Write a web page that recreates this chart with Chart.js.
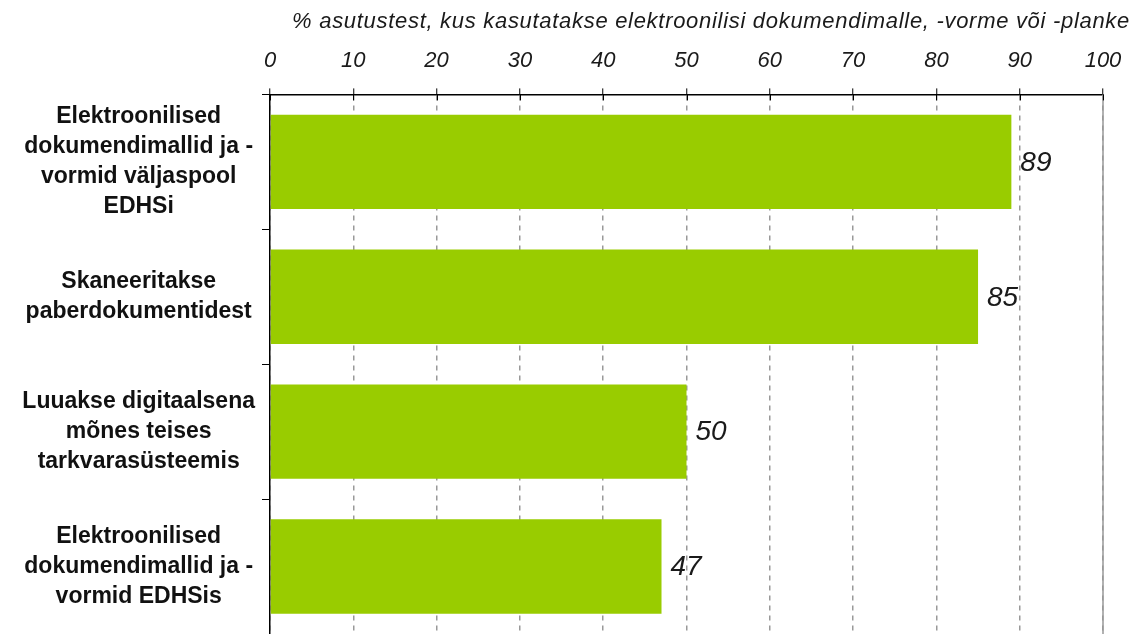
<!DOCTYPE html>
<html>
<head>
<meta charset="utf-8">
<script src="https://cdn.jsdelivr.net/npm/chart.js@4.4.1/dist/chart.umd.min.js"></script>
<style>
body { margin: 0; background: #fff; }
#wrap { width: 1142px; height: 634px; }
</style>
</head>
<body>
<div id="wrap"><canvas id="chart"></canvas></div>
<script>
const categories = [
    ['Elektroonilised', 'dokumendimallid ja -', 'vormid väljaspool', 'EDHSi'],
    ['Skaneeritakse', 'paberdokumentidest'],
    ['Luuakse digitaalsena', 'mõnes teises', 'tarkvarasüsteemis'],
    ['Elektroonilised', 'dokumendimallid ja -', 'vormid EDHSis']
];
const values = [89, 85, 50, 47];
const axisTitle = '% asutustest, kus kasutatakse elektroonilisi dokumendimalle, -vorme või -planke';
const xMin = 0;
const xMax = 100;
const xStep = 10;

const FONT = '"Liberation Sans", Arial, sans-serif';

// title, value labels, solid line at 100, tick marks below the top axis
const extras = {
    id: 'extras',
    afterDatasetsDraw(chart) {
        const ctx = chart.ctx;
        const x = chart.scales.x;
        const area = chart.chartArea;
        ctx.save();

        const right = x.getPixelForValue(xMax);
        ctx.strokeStyle = '#999';
        ctx.lineWidth = 1.5;
        ctx.beginPath();
        ctx.moveTo(right, area.top);
        ctx.lineTo(right, area.bottom);
        ctx.stroke();

        ctx.strokeStyle = '#000';
        ctx.lineWidth = 1;
        ctx.beginPath();
        x.ticks.forEach(t => {
            const px = Math.round(x.getPixelForValue(t.value)) + 0.5;
            ctx.moveTo(px, area.top);
            ctx.lineTo(px, area.top + 6);
        });
        ctx.stroke();

        const meta = chart.getDatasetMeta(0);
        ctx.font = 'italic 28px ' + FONT;
        ctx.fillStyle = '#1a1a1a';
        ctx.textAlign = 'left';
        ctx.textBaseline = 'middle';
        meta.data.forEach((bar, i) => {
            ctx.fillText(values[i], bar.x + 9, bar.y + 1);
        });

        ctx.font = 'italic 22px ' + FONT;
        ctx.letterSpacing = '0.7px';
        ctx.textAlign = 'right';
        ctx.fillText(axisTitle, chart.width - 12, 22);
        ctx.restore();
    }
};

const ctx = document.getElementById('chart').getContext('2d');
new Chart(ctx, {
    type: 'bar',
    data: {
        labels: categories,
        datasets: [{
            data: values,
            backgroundColor: '#99cc00',
            borderWidth: 0,
            categoryPercentage: 0.7,
            barPercentage: 1.0
        }]
    },
    plugins: [extras],
    options: {
        indexAxis: 'y',
        responsive: true,
        maintainAspectRatio: false,
        animation: false,
        layout: {
            padding: { left: 0, right: 12, top: 34, bottom: 0 }
        },
        plugins: {
            legend: { display: false },
            tooltip: { enabled: false },
            title: { display: false }
        },
        scales: {
            x: {
                position: 'top',
                min: xMin,
                max: xMax,
                afterFit(scale) {
                    scale.paddingRight = 39;
                },
                ticks: {
                    stepSize: xStep,
                    color: '#1a1a1a',
                    padding: 14,
                    font: { family: FONT, size: 22, style: 'italic' }
                },
                grid: {
                    color: '#999',
                    lineWidth: 1.5,
                    tickLength: 6,
                    tickColor: '#000',
                    tickWidth: 1,
                    tickBorderDash: []
                },
                border: {
                    color: '#000',
                    width: 1.5,
                    dash: [5, 5]
                }
            },
            y: {
                afterFit(scale) {
                    scale.width = 270;
                    scale.paddingTop = 0;
                    scale.paddingBottom = 0;
                },
                ticks: {
                    autoSkip: false,
                    color: '#111',
                    crossAlign: 'center',
                    padding: 7,
                    font: { family: FONT, size: 23, weight: 'bold', lineHeight: 1.3 }
                },
                grid: {
                    drawOnChartArea: false,
                    tickLength: 8,
                    tickColor: '#000',
                    tickWidth: 1
                },
                border: {
                    color: '#000',
                    width: 1.5
                }
            }
        }
    }
});
</script>
</body>
</html>
